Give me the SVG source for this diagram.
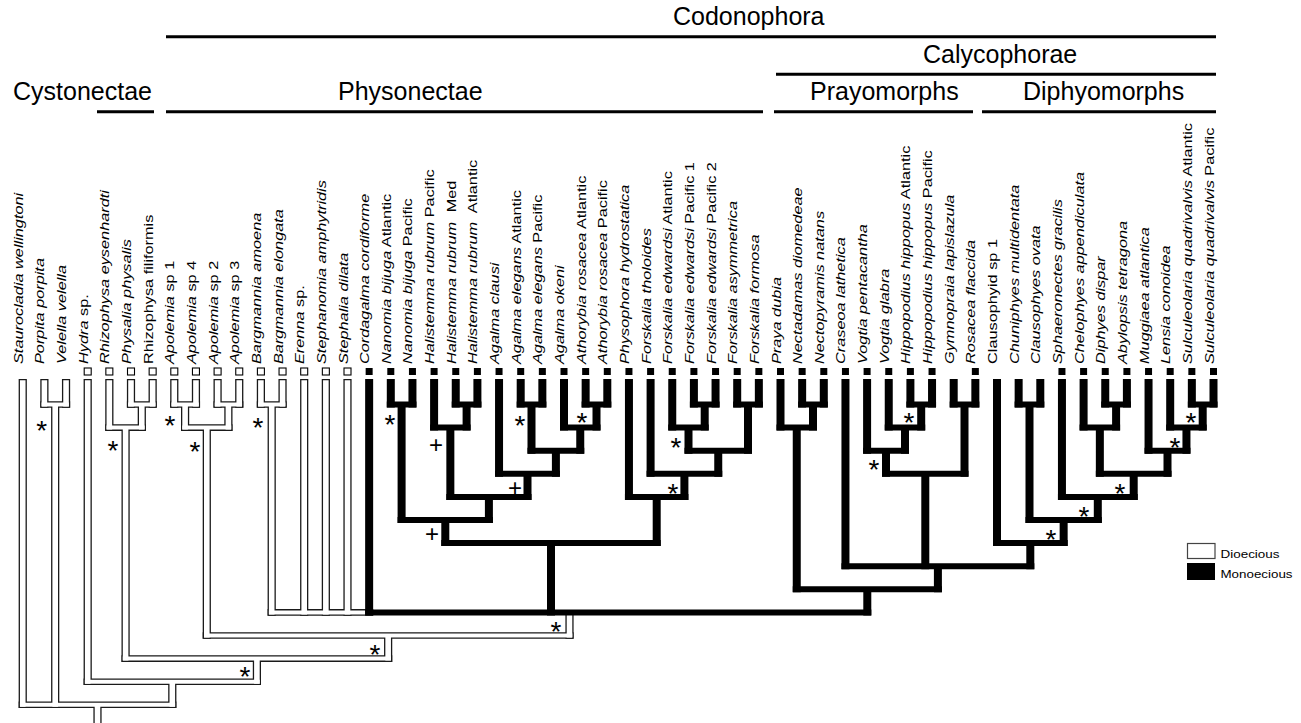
<svg xmlns="http://www.w3.org/2000/svg" width="1301" height="723" viewBox="0 0 1301 723">
<style>
.hd{font-family:"Liberation Sans",Arial,sans-serif;font-size:25px;fill:#000}
.hl{stroke:#000;stroke-width:3;fill:none}
.lab{font-family:"Liberation Sans",Arial,sans-serif;font-size:13px;fill:#000}
.it{font-style:italic}
.sq-d{fill:#fff;stroke:#000;stroke-width:1.1}
.sq-m{fill:#000}
.dvO{fill:none;stroke:#1a1a1a;stroke-width:8.2;stroke-linecap:butt}
.dhO{fill:none;stroke:#1a1a1a;stroke-width:6.6;stroke-linecap:butt}
.dvI{fill:none;stroke:#fff;stroke-width:5.6;stroke-linecap:butt}
.dhI{fill:none;stroke:#fff;stroke-width:4;stroke-linecap:butt}
.mv{fill:none;stroke:#000;stroke-width:8;stroke-linecap:butt}
.mh{fill:none;stroke:#000;stroke-width:6;stroke-linecap:butt}
.ast{font-family:"Liberation Sans",Arial,sans-serif;font-size:28px;text-anchor:middle;fill:#000}
.pls{font-family:"Liberation Sans",Arial,sans-serif;font-size:24px;text-anchor:middle;fill:#000}
.lg{font-family:"Liberation Sans",Arial,sans-serif;font-size:11px;fill:#000}
</style>
<rect width="1301" height="723" fill="#fff"/>

<g id="clades">
<text class="hd" x="673" y="25">Codonophora</text>
<path class="hl" d="M166,36.7H1216"/>
<text class="hd" x="923" y="63">Calycophorae</text>
<path class="hl" d="M776,74.2H1216"/>
<text class="hd" x="13" y="100">Cystonectae</text>
<text class="hd" x="338" y="100">Physonectae</text>
<text class="hd" x="810" y="100">Prayomorphs</text>
<text class="hd" x="1023" y="100">Diphyomorphs</text>
<path class="hl" d="M97,111.7H154 M166,111.7H763 M774,111.7H973 M982,111.7H1216"/>
</g>

<g id="connectors">
<g id="dioecious-branches">
<path class="dvO" d="M22.75,379V708.1 M44.4,379V407.8 M66.05,379V407.8 M87.7,379V685 M109.35,379V430.9 M131,379V407.8 M152.65,379V407.8 M174.3,379V407.8 M195.95,379V407.8 M217.6,379V407.8 M239.25,379V407.8 M260.9,379V407.8 M282.55,379V407.8 M304.2,379V615.7 M325.85,379V615.7 M347.5,379V615.7 M55.2,404.5V708.1 M141.8,404.5V430.9 M125.6,427.6V661.9 M185.1,404.5V430.9 M228.4,404.5V430.9 M206.8,427.6V638.8 M271.7,404.5V615.7 M569.5,612.4V638.8 M388.15,635.5V661.9 M256.9,658.6V685 M172.3,681.7V708.1 M97.5,704.8V735"/>
<path class="dhO" d="M40.3,404.5H70.15 M126.9,404.5H156.75 M105.25,427.6H145.9 M170.2,404.5H200.05 M213.5,404.5H243.35 M181,427.6H232.5 M256.8,404.5H286.65 M267.6,612.4H373.25 M202.7,635.5H573.6 M121.5,658.6H392.25 M83.6,681.7H261 M18.65,704.8H176.4"/>
<path class="dvI" d="M22.75,380.3V706.8 M44.4,380.3V406.5 M66.05,380.3V406.5 M87.7,380.3V683.7 M109.35,380.3V429.6 M131,380.3V406.5 M152.65,380.3V406.5 M174.3,380.3V406.5 M195.95,380.3V406.5 M217.6,380.3V406.5 M239.25,380.3V406.5 M260.9,380.3V406.5 M282.55,380.3V406.5 M304.2,380.3V614.4 M325.85,380.3V614.4 M347.5,380.3V614.4 M55.2,404.5V706.8 M141.8,404.5V429.6 M125.6,427.6V660.6 M185.1,404.5V429.6 M228.4,404.5V429.6 M206.8,427.6V637.5 M271.7,404.5V614.4 M569.5,612.4V637.5 M388.15,635.5V660.6 M256.9,658.6V683.7 M172.3,681.7V706.8 M97.5,704.8V735"/>
<path class="dhI" d="M41.6,404.5H68.85 M128.2,404.5H155.45 M106.55,427.6H144.6 M171.5,404.5H198.75 M214.8,404.5H242.05 M182.3,427.6H231.2 M258.1,404.5H285.35 M268.9,612.4H371.95 M204,635.5H572.3 M122.8,658.6H390.95 M84.9,681.7H259.7 M19.95,704.8H175.1"/>
</g>
<g id="monoecious-branches">
<path class="mv" d="M369.15,379V615.4 M390.8,379V407.5 M412.45,379V407.5 M455.75,379V407.5 M477.4,379V407.5 M434.1,379V430.6 M520.7,379V407.5 M542.35,379V407.5 M585.65,379V407.5 M607.3,379V407.5 M564,379V430.6 M499.05,379V476.8 M693.9,379V407.5 M715.55,379V407.5 M672.25,379V430.6 M737.2,379V407.5 M758.85,379V407.5 M650.6,379V476.8 M628.95,379V499.9 M802.15,379V407.5 M823.8,379V407.5 M780.5,379V430.6 M910.4,379V407.5 M932.05,379V407.5 M888.75,379V430.6 M867.1,379V453.7 M953.7,379V407.5 M975.35,379V407.5 M845.45,379V569.2 M1018.65,379V407.5 M1040.3,379V407.5 M1105.25,379V407.5 M1126.9,379V407.5 M1083.6,379V430.6 M1191.85,379V407.5 M1213.5,379V407.5 M1170.2,379V430.6 M1148.55,379V453.7 M1061.95,379V499.9 M997,379V546.1 M401.6,404.5V523 M466.6,404.5V430.6 M450.35,427.6V499.9 M531.5,404.5V453.7 M596.5,404.5V430.6 M580.25,427.6V453.7 M555.9,450.7V476.8 M527.5,473.8V499.9 M488.9,496.9V523 M445.3,520V546.1 M704.7,404.5V430.6 M688.5,427.6V453.7 M748,404.5V453.7 M718.25,450.7V476.8 M684.4,473.8V499.9 M656.7,496.9V546.1 M551,543.1V615.4 M813,404.5V430.6 M796.75,427.6V592.3 M921.2,404.5V430.6 M905,427.6V453.7 M886,450.7V476.8 M964.5,404.5V476.8 M925.3,473.8V569.2 M1029.5,404.5V523 M1116.1,404.5V430.6 M1099.85,427.6V476.8 M1202.7,404.5V430.6 M1186.45,427.6V453.7 M1167.5,450.7V476.8 M1133.7,473.8V499.9 M1097.8,496.9V523 M1063.65,520V546.1 M1030.3,543.1V569.2 M937.9,566.2V592.3 M867.3,589.3V615.4"/>
<path class="mh" d="M386.8,404.5H416.45 M451.75,404.5H481.4 M430.1,427.6H470.6 M516.7,404.5H546.35 M581.65,404.5H611.3 M560,427.6H600.5 M527.5,450.7H584.25 M495.05,473.8H559.9 M446.35,496.9H531.5 M397.6,520H492.9 M441.3,543.1H660.7 M689.9,404.5H719.55 M668.25,427.6H708.7 M733.2,404.5H762.85 M684.5,450.7H752 M646.6,473.8H722.25 M624.95,496.9H688.4 M365.15,612.4H871.3 M798.15,404.5H827.8 M776.5,427.6H817 M792.75,589.3H941.9 M906.4,404.5H936.05 M884.75,427.6H925.2 M863.1,450.7H909 M949.7,404.5H979.35 M882,473.8H968.5 M841.45,566.2H1034.3 M1014.65,404.5H1044.3 M1101.25,404.5H1130.9 M1079.6,427.6H1120.1 M1187.85,404.5H1217.5 M1166.2,427.6H1206.7 M1144.55,450.7H1190.45 M1095.85,473.8H1171.5 M1057.95,496.9H1137.7 M1025.5,520H1101.8 M993,543.1H1067.65"/>
</g>
</g>

<g id="support">
<text class="ast" x="41.7" y="439.6">*</text>
<text class="ast" x="113" y="460.3">*</text>
<text class="ast" x="170" y="435.3">*</text>
<text class="ast" x="195" y="461.3">*</text>
<text class="ast" x="258" y="437.3">*</text>
<text class="ast" x="390" y="434.3">*</text>
<text class="pls" x="436" y="452.7">+</text>
<text class="ast" x="520" y="435.3">*</text>
<text class="ast" x="582" y="432.3">*</text>
<text class="pls" x="515" y="495.7">+</text>
<text class="pls" x="432" y="541.7">+</text>
<text class="ast" x="676" y="457.3">*</text>
<text class="ast" x="673" y="503.3">*</text>
<text class="ast" x="556" y="641.3">*</text>
<text class="ast" x="375" y="664.3">*</text>
<text class="ast" x="245" y="686.3">*</text>
<text class="ast" x="909" y="432.3">*</text>
<text class="ast" x="874" y="479.3">*</text>
<text class="ast" x="1191" y="432.3">*</text>
<text class="ast" x="1175" y="457.3">*</text>
<text class="ast" x="1120" y="503.3">*</text>
<text class="ast" x="1084" y="526.3">*</text>
<text class="ast" x="1051" y="549.3">*</text>
</g>

<g id="taxa">
<g id="n01"><text class="lab" transform="translate(22.75,364) rotate(-90) scale(1.254,1)"><tspan class="it">Staurocladia wellingtoni</tspan></text></g>
<g id="n02"><text class="lab" transform="translate(44.4,364) rotate(-90) scale(1.254,1)"><tspan class="it">Porpita porpita</tspan></text></g>
<g id="n03"><text class="lab" transform="translate(66.05,364) rotate(-90) scale(1.254,1)"><tspan class="it">Velella velella</tspan></text></g>
<g id="n04"><rect class="sq-d" x="84.2" y="368" width="7" height="7"/><text class="lab" transform="translate(87.7,364) rotate(-90) scale(1.254,1)"><tspan class="it">Hydra</tspan> sp.</text></g>
<g id="n05"><rect class="sq-d" x="105.85" y="368" width="7" height="7"/><text class="lab" transform="translate(109.35,364) rotate(-90) scale(1.254,1)"><tspan class="it">Rhizophysa eysenhardti</tspan></text></g>
<g id="n06"><rect class="sq-d" x="127.5" y="368" width="7" height="7"/><text class="lab" transform="translate(131,364) rotate(-90) scale(1.254,1)"><tspan class="it">Physalia physalis</tspan></text></g>
<g id="n07"><rect class="sq-d" x="149.15" y="368" width="7" height="7"/><text class="lab" transform="translate(152.65,364) rotate(-90) scale(1.254,1)">Rhizophysa filiformis</text></g>
<g id="n08"><rect class="sq-d" x="170.8" y="368" width="7" height="7"/><text class="lab" transform="translate(174.3,364) rotate(-90) scale(1.254,1)"><tspan class="it">Apolemia</tspan> sp 1</text></g>
<g id="n09"><rect class="sq-d" x="192.45" y="368" width="7" height="7"/><text class="lab" transform="translate(195.95,364) rotate(-90) scale(1.254,1)"><tspan class="it">Apolemia</tspan> sp 4</text></g>
<g id="n10"><rect class="sq-d" x="214.1" y="368" width="7" height="7"/><text class="lab" transform="translate(217.6,364) rotate(-90) scale(1.254,1)"><tspan class="it">Apolemia</tspan> sp 2</text></g>
<g id="n11"><rect class="sq-d" x="235.75" y="368" width="7" height="7"/><text class="lab" transform="translate(239.25,364) rotate(-90) scale(1.254,1)"><tspan class="it">Apolemia</tspan> sp 3</text></g>
<g id="n12"><rect class="sq-d" x="257.4" y="368" width="7" height="7"/><text class="lab" transform="translate(260.9,364) rotate(-90) scale(1.254,1)"><tspan class="it">Bargmannia amoena</tspan></text></g>
<g id="n13"><rect class="sq-d" x="279.05" y="368" width="7" height="7"/><text class="lab" transform="translate(282.55,364) rotate(-90) scale(1.254,1)"><tspan class="it">Bargmannia elongata</tspan></text></g>
<g id="n14"><rect class="sq-d" x="300.7" y="368" width="7" height="7"/><text class="lab" transform="translate(304.2,364) rotate(-90) scale(1.254,1)"><tspan class="it">Erenna</tspan> sp.</text></g>
<g id="n15"><rect class="sq-d" x="322.35" y="368" width="7" height="7"/><text class="lab" transform="translate(325.85,364) rotate(-90) scale(1.254,1)"><tspan class="it">Stephanomia amphytridis</tspan></text></g>
<g id="n16"><rect class="sq-d" x="344" y="368" width="7" height="7"/><text class="lab" transform="translate(347.5,364) rotate(-90) scale(1.254,1)"><tspan class="it">Stephalia dilata</tspan></text></g>
<g id="n17"><rect class="sq-m" x="365.65" y="368" width="7" height="7"/><text class="lab" transform="translate(369.15,364) rotate(-90) scale(1.254,1)"><tspan class="it">Cordagalma cordiforme</tspan></text></g>
<g id="n18"><rect class="sq-m" x="387.3" y="368" width="7" height="7"/><text class="lab" transform="translate(390.8,364) rotate(-90) scale(1.254,1)"><tspan class="it">Nanomia bijuga</tspan> Atlantic</text></g>
<g id="n19"><rect class="sq-m" x="408.95" y="368" width="7" height="7"/><text class="lab" transform="translate(412.45,364) rotate(-90) scale(1.254,1)"><tspan class="it">Nanomia bijuga</tspan> Pacific</text></g>
<g id="n20"><rect class="sq-m" x="430.6" y="368" width="7" height="7"/><text class="lab" transform="translate(434.1,364) rotate(-90) scale(1.254,1)"><tspan class="it">Halistemma rubrum</tspan> Pacific</text></g>
<g id="n21"><rect class="sq-m" x="452.25" y="368" width="7" height="7"/><text class="lab" transform="translate(455.75,364) rotate(-90) scale(1.254,1)"><tspan class="it">Halistemma rubrum</tspan><tspan dx="4"> Med</tspan></text></g>
<g id="n22"><rect class="sq-m" x="473.9" y="368" width="7" height="7"/><text class="lab" transform="translate(477.4,364) rotate(-90) scale(1.254,1)"><tspan class="it">Halistemma rubrum</tspan><tspan dx="4"> Atlantic</tspan></text></g>
<g id="n23"><rect class="sq-m" x="495.55" y="368" width="7" height="7"/><text class="lab" transform="translate(499.05,364) rotate(-90) scale(1.254,1)"><tspan class="it">Agalma clausi</tspan></text></g>
<g id="n24"><rect class="sq-m" x="517.2" y="368" width="7" height="7"/><text class="lab" transform="translate(520.7,364) rotate(-90) scale(1.254,1)"><tspan class="it">Agalma elegans</tspan> Atlantic</text></g>
<g id="n25"><rect class="sq-m" x="538.85" y="368" width="7" height="7"/><text class="lab" transform="translate(542.35,364) rotate(-90) scale(1.254,1)"><tspan class="it">Agalma elegans</tspan> Pacific</text></g>
<g id="n26"><rect class="sq-m" x="560.5" y="368" width="7" height="7"/><text class="lab" transform="translate(564,364) rotate(-90) scale(1.254,1)"><tspan class="it">Agalma okeni</tspan></text></g>
<g id="n27"><rect class="sq-m" x="582.15" y="368" width="7" height="7"/><text class="lab" transform="translate(585.65,364) rotate(-90) scale(1.254,1)"><tspan class="it">Athorybia rosacea</tspan> Atlantic</text></g>
<g id="n28"><rect class="sq-m" x="603.8" y="368" width="7" height="7"/><text class="lab" transform="translate(607.3,364) rotate(-90) scale(1.254,1)"><tspan class="it">Athorybia rosacea</tspan> Pacific</text></g>
<g id="n29"><rect class="sq-m" x="625.45" y="368" width="7" height="7"/><text class="lab" transform="translate(628.95,364) rotate(-90) scale(1.254,1)"><tspan class="it">Physophora hydrostatica</tspan></text></g>
<g id="n30"><rect class="sq-m" x="647.1" y="368" width="7" height="7"/><text class="lab" transform="translate(650.6,364) rotate(-90) scale(1.254,1)"><tspan class="it">Forskalia tholoides</tspan></text></g>
<g id="n31"><rect class="sq-m" x="668.75" y="368" width="7" height="7"/><text class="lab" transform="translate(672.25,364) rotate(-90) scale(1.254,1)"><tspan class="it">Forskalia edwardsi</tspan> Atlantic</text></g>
<g id="n32"><rect class="sq-m" x="690.4" y="368" width="7" height="7"/><text class="lab" transform="translate(693.9,364) rotate(-90) scale(1.254,1)"><tspan class="it">Forskalia edwardsi</tspan> Pacific 1</text></g>
<g id="n33"><rect class="sq-m" x="712.05" y="368" width="7" height="7"/><text class="lab" transform="translate(715.55,364) rotate(-90) scale(1.254,1)"><tspan class="it">Forskalia edwardsi</tspan> Pacific 2</text></g>
<g id="n34"><rect class="sq-m" x="733.7" y="368" width="7" height="7"/><text class="lab" transform="translate(737.2,364) rotate(-90) scale(1.254,1)"><tspan class="it">Forskalia asymmetrica</tspan></text></g>
<g id="n35"><rect class="sq-m" x="755.35" y="368" width="7" height="7"/><text class="lab" transform="translate(758.85,364) rotate(-90) scale(1.254,1)"><tspan class="it">Forskalia formosa</tspan></text></g>
<g id="n36"><rect class="sq-m" x="777" y="368" width="7" height="7"/><text class="lab" transform="translate(780.5,364) rotate(-90) scale(1.254,1)"><tspan class="it">Praya dubia</tspan></text></g>
<g id="n37"><rect class="sq-m" x="798.65" y="368" width="7" height="7"/><text class="lab" transform="translate(802.15,364) rotate(-90) scale(1.254,1)"><tspan class="it">Nectadamas diomedeae</tspan></text></g>
<g id="n38"><rect class="sq-m" x="820.3" y="368" width="7" height="7"/><text class="lab" transform="translate(823.8,364) rotate(-90) scale(1.254,1)"><tspan class="it">Nectopyramis natans</tspan></text></g>
<g id="n39"><rect class="sq-m" x="841.95" y="368" width="7" height="7"/><text class="lab" transform="translate(845.45,364) rotate(-90) scale(1.254,1)"><tspan class="it">Craseoa lathetica</tspan></text></g>
<g id="n40"><rect class="sq-m" x="863.6" y="368" width="7" height="7"/><text class="lab" transform="translate(867.1,364) rotate(-90) scale(1.254,1)"><tspan class="it">Vogtia pentacantha</tspan></text></g>
<g id="n41"><rect class="sq-m" x="885.25" y="368" width="7" height="7"/><text class="lab" transform="translate(888.75,364) rotate(-90) scale(1.254,1)"><tspan class="it">Vogtia glabra</tspan></text></g>
<g id="n42"><rect class="sq-m" x="906.9" y="368" width="7" height="7"/><text class="lab" transform="translate(910.4,364) rotate(-90) scale(1.254,1)"><tspan class="it">Hippopodius hippopus</tspan> Atlantic</text></g>
<g id="n43"><rect class="sq-m" x="928.55" y="368" width="7" height="7"/><text class="lab" transform="translate(932.05,364) rotate(-90) scale(1.254,1)"><tspan class="it">Hippopodius hippopus</tspan> Pacific</text></g>
<g id="n44"><text class="lab" transform="translate(953.7,364) rotate(-90) scale(1.254,1)"><tspan class="it">Gymnopraia lapislazula</tspan></text></g>
<g id="n45"><rect class="sq-m" x="971.85" y="368" width="7" height="7"/><text class="lab" transform="translate(975.35,364) rotate(-90) scale(1.254,1)"><tspan class="it">Rosacea flaccida</tspan></text></g>
<g id="n46"><text class="lab" transform="translate(997,364) rotate(-90) scale(1.254,1)">Clausophyid sp 1</text></g>
<g id="n47"><text class="lab" transform="translate(1018.65,364) rotate(-90) scale(1.254,1)"><tspan class="it">Chuniphyes multidentata</tspan></text></g>
<g id="n48"><text class="lab" transform="translate(1040.3,364) rotate(-90) scale(1.254,1)"><tspan class="it">Clausophyes ovata</tspan></text></g>
<g id="n49"><rect class="sq-m" x="1058.45" y="368" width="7" height="7"/><text class="lab" transform="translate(1061.95,364) rotate(-90) scale(1.254,1)"><tspan class="it">Sphaeronectes gracilis</tspan></text></g>
<g id="n50"><rect class="sq-m" x="1080.1" y="368" width="7" height="7"/><text class="lab" transform="translate(1083.6,364) rotate(-90) scale(1.254,1)"><tspan class="it">Chelophyes appendiculata</tspan></text></g>
<g id="n51"><rect class="sq-m" x="1101.75" y="368" width="7" height="7"/><text class="lab" transform="translate(1105.25,364) rotate(-90) scale(1.254,1)"><tspan class="it">Diphyes dispar</tspan></text></g>
<g id="n52"><rect class="sq-m" x="1123.4" y="368" width="7" height="7"/><text class="lab" transform="translate(1126.9,364) rotate(-90) scale(1.254,1)"><tspan class="it">Abylopsis tetragona</tspan></text></g>
<g id="n53"><rect class="sq-m" x="1145.05" y="368" width="7" height="7"/><text class="lab" transform="translate(1148.55,364) rotate(-90) scale(1.254,1)"><tspan class="it">Muggiaea atlantica</tspan></text></g>
<g id="n54"><rect class="sq-m" x="1166.7" y="368" width="7" height="7"/><text class="lab" transform="translate(1170.2,364) rotate(-90) scale(1.254,1)"><tspan class="it">Lensia conoidea</tspan></text></g>
<g id="n55"><rect class="sq-m" x="1188.35" y="368" width="7" height="7"/><text class="lab" transform="translate(1191.85,364) rotate(-90) scale(1.254,1)"><tspan class="it">Sulculeolaria quadrivalvis</tspan> Atlantic</text></g>
<g id="n56"><rect class="sq-m" x="1210" y="368" width="7" height="7"/><text class="lab" transform="translate(1213.5,364) rotate(-90) scale(1.254,1)"><tspan class="it">Sulculeolaria quadrivalvis</tspan> Pacific</text></g>
</g>

<g id="legend">
<rect x="1187.5" y="543.5" width="27.5" height="15" fill="#fff" stroke="#444" stroke-width="1.2"/>
<rect x="1187" y="563" width="28" height="17" fill="#000"/>
<text class="lg" x="1220.5" y="558" textLength="59" lengthAdjust="spacingAndGlyphs">Dioecious</text>
<text class="lg" x="1220.5" y="578" textLength="72" lengthAdjust="spacingAndGlyphs">Monoecious</text>
</g>
</svg>
